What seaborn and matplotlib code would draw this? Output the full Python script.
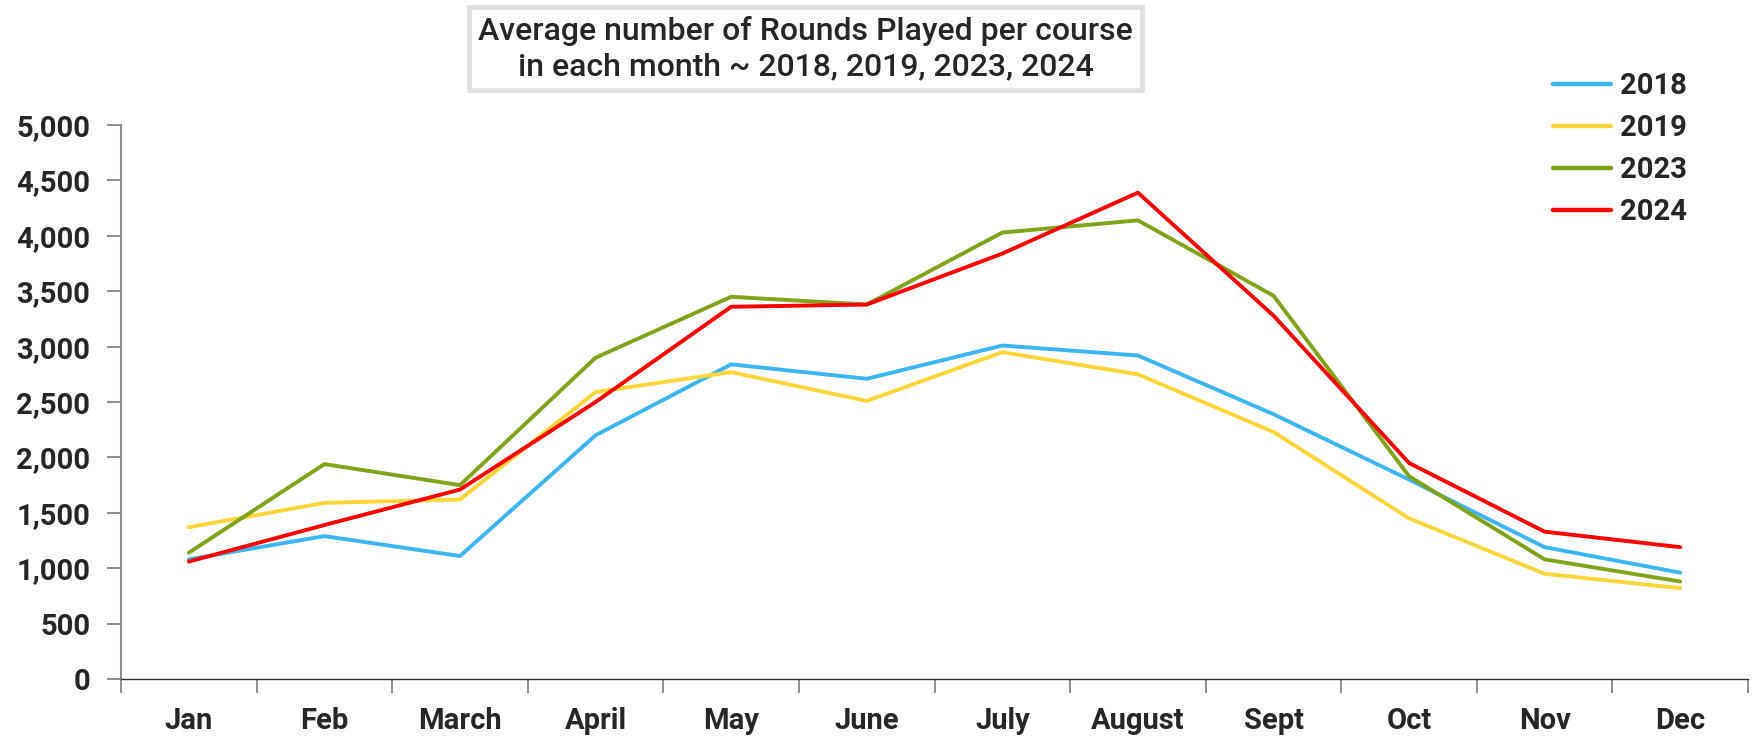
import pandas as pd
import numpy as np

import matplotlib.pyplot as plt
import seaborn as sns
from matplotlib.ticker import FixedLocator, FuncFormatter

months = ['Jan', 'Feb', 'March', 'April', 'May', 'June',
          'July', 'August', 'Sept', 'Oct', 'Nov', 'Dec']
years = ['2018', '2019', '2023', '2024']

rounds_2018 = [1080, 1290, 1110, 2200, 2840, 2710, 3010, 2920, 2390, 1800, 1190, 960]
rounds_2019 = [1370, 1590, 1620, 2590, 2770, 2510, 2950, 2750, 2230, 1450, 950, 820]
rounds_2023 = [1140, 1940, 1750, 2900, 3450, 3380, 4030, 4140, 3460, 1830, 1080, 880]
rounds_2024 = [1060, 1390, 1710, 2500, 3360, 3380, 3840, 4390, 3280, 1950, 1330, 1190]

colors = ['#3BB6F0', '#FFD63A', '#80A31A', '#FF0000']

df = pd.DataFrame({
    'month': months * 4,
    'year': np.repeat(years, len(months)),
    'rounds': rounds_2018 + rounds_2019 + rounds_2023 + rounds_2024,
})

sns.set_style('white')
plt.rcParams['font.family'] = ['Roboto', 'DejaVu Sans']

fig = plt.figure(figsize=(17.54, 7.40), dpi=100)
ax = fig.add_axes([0.069, 0.0824, 0.9276, 0.7486])

sns.lineplot(data=df, x='month', y='rounds', hue='year', palette=colors,
             sort=False, lw=2.8, ax=ax)

ax.set_xlim(-0.5, len(months) - 0.5)
ax.set_ylim(0, 5000)
ax.set_yticks(range(0, 5001, 500))
ax.yaxis.set_major_formatter(FuncFormatter(lambda v, p: f'{int(v):,}'))
ax.set_xlabel('')
ax.set_ylabel('')

# tick marks sit between months, labels centred under each month
ax.xaxis.set_minor_locator(FixedLocator(np.arange(-0.5, len(months), 1)))
ax.tick_params(axis='x', which='both', bottom=True)
ax.tick_params(axis='x', which='major', length=0, pad=20, labelsize=21)
ax.tick_params(axis='x', which='minor', length=10, width=1.2, color='#7a7a7a')
ax.tick_params(axis='y', left=True, length=10, width=1.2, color='#7a7a7a', pad=12, labelsize=21)
for lab in ax.get_xticklabels() + ax.get_yticklabels():
    lab.set_fontweight('bold')

for s in ['top', 'right']:
    ax.spines[s].set_visible(False)
ax.spines['left'].set_color('#8c8c8c')
ax.spines['left'].set_linewidth(1.5)
ax.spines['bottom'].set_color('#333333')
ax.spines['bottom'].set_linewidth(1)

leg = ax.legend(loc='upper left', bbox_to_anchor=(0.8787, 0.9185),
                bbox_transform=fig.transFigure, borderaxespad=0, frameon=False,
                fontsize=21, handlelength=2.0, handletextpad=0.3, labelspacing=0.48)
for t in leg.get_texts():
    t.set_fontweight('bold')
for ln in leg.get_lines():
    ln.set_linewidth(3.2)

fig.text(0.4592, 0.9345, 'Average number of Rounds Played per course\nin each month ~ 2018, 2019, 2023, 2024',
         ha='center', va='center', fontsize=23, fontweight='medium', linespacing=1.25,
         bbox=dict(boxstyle='square,pad=0.28', facecolor='white', edgecolor='#e0e0e0', linewidth=3.5))

fig.savefig('out.png', dpi=100)
